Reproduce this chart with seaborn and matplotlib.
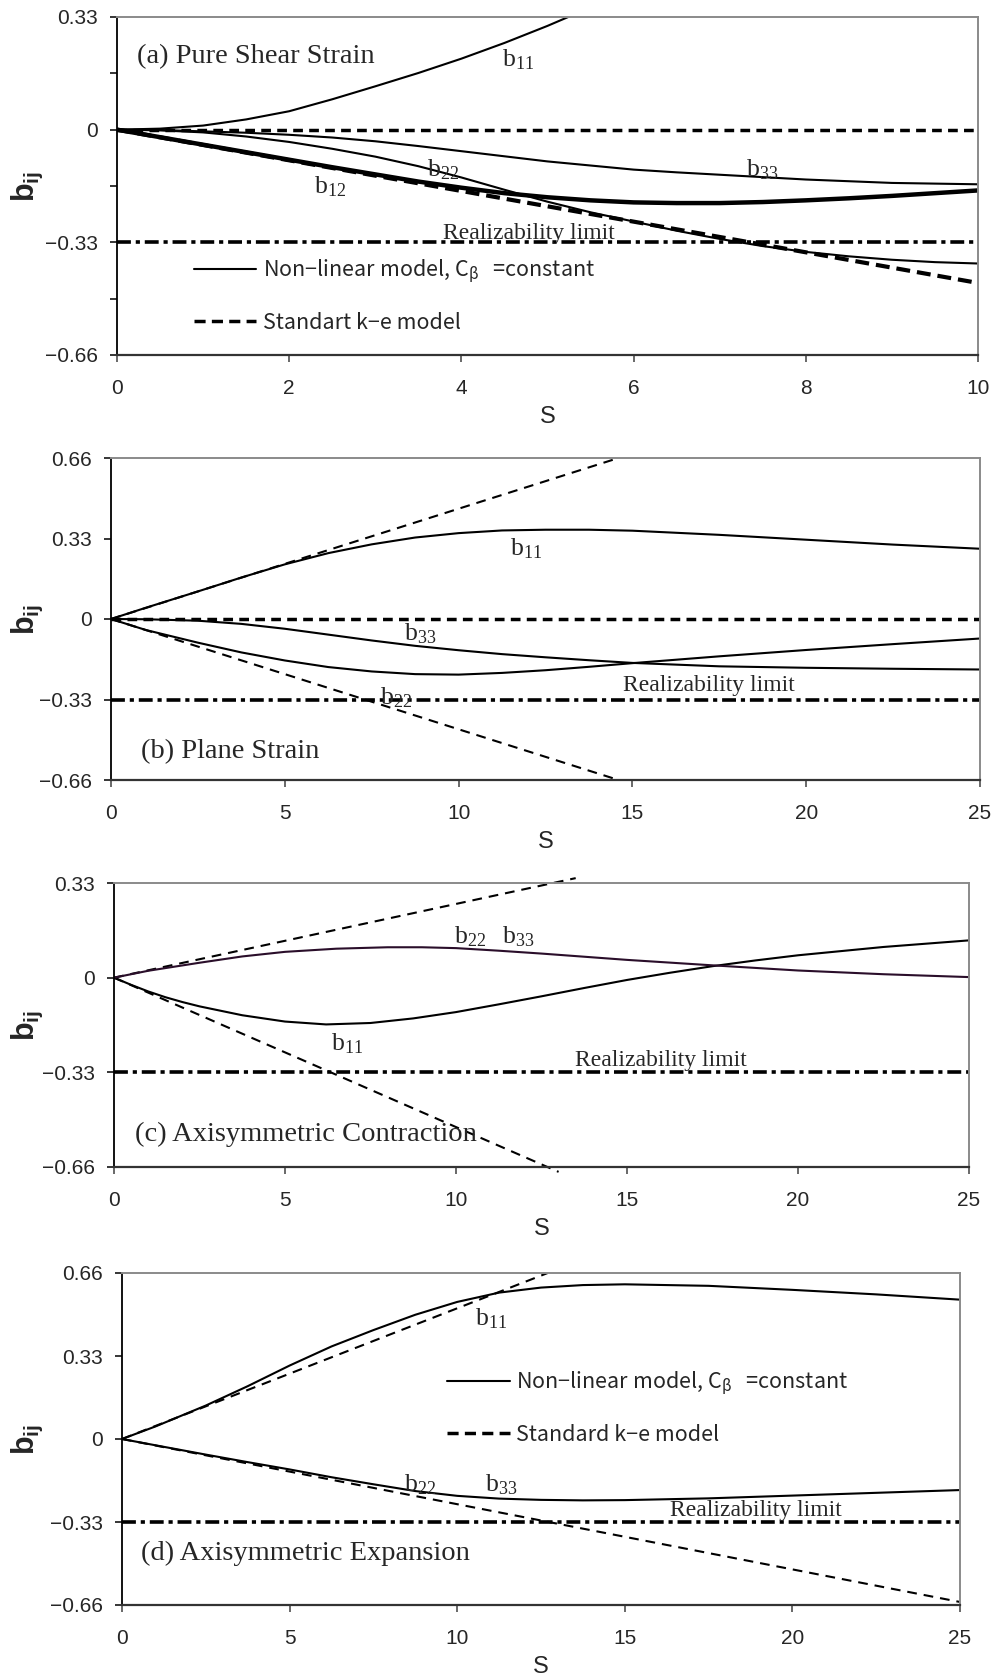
import numpy as np
import pandas as pd
import matplotlib
matplotlib.use("Agg")
import matplotlib.pyplot as plt
import seaborn as sns
from matplotlib.lines import Line2D
from matplotlib.font_manager import FontProperties

# ---------------- data ----------------
# (a) Pure shear strain
S_A = [0, 0.5, 1, 1.5, 2, 2.5, 3, 3.5, 4, 4.5, 5, 5.5, 6, 6.5, 7, 7.5, 8, 8.5, 9, 9.5, 10]
A_B11 = [0, 0.003, 0.012, 0.03, 0.054, 0.089, 0.127, 0.166, 0.208, 0.254, 0.304, 0.358]
A_B22 = [0, -0.002, -0.008, -0.02, -0.036, -0.056, -0.079, -0.107, -0.14, -0.176, -0.211,
         -0.242, -0.269, -0.296, -0.32, -0.341, -0.358, -0.371, -0.381, -0.388, -0.392]
A_B33 = [0, -0.001, -0.005, -0.009, -0.015, -0.023, -0.034, -0.048, -0.063, -0.078, -0.093,
         -0.105, -0.117, -0.125, -0.132, -0.139, -0.146, -0.151, -0.156, -0.158, -0.16]
A_B12 = [0, -0.022, -0.044, -0.066, -0.088, -0.11, -0.131, -0.152, -0.17, -0.186, -0.198,
         -0.207, -0.213, -0.215, -0.215, -0.212, -0.207, -0.201, -0.194, -0.186, -0.178]
A_STD_S = [0, 10]
A_STD_B12 = [0, -0.449]
A_STD_BII = [0, 0]

# (b) Plane strain
S_B = [0, 1, 2.5, 3.75, 5, 6.25, 7.5, 8.75, 10, 11.25, 12.5, 13.75, 15, 17.5, 20, 22.5, 25]
B_B11 = [0, 0.046, 0.113, 0.17, 0.224, 0.27, 0.306, 0.334, 0.352, 0.363, 0.366, 0.366,
         0.362, 0.345, 0.325, 0.305, 0.288]
B_B22 = [0, -0.045, -0.097, -0.137, -0.170, -0.197, -0.215, -0.226, -0.228, -0.221, -0.210,
         -0.196, -0.181, -0.153, -0.127, -0.103, -0.08]
B_B33 = [0, -0.001, -0.007, -0.02, -0.04, -0.064, -0.088, -0.11, -0.128, -0.144, -0.157,
         -0.169, -0.18, -0.194, -0.2, -0.204, -0.207]
B_STD_S = [0, 14.6]
B_STD_B11 = [0, 0.66]
B_STD_B22 = [0, -0.66]
B_STD_S33 = [0, 25]
B_STD_B33 = [0, 0]

# (c) Axisymmetric contraction
S_C1 = [0, 0.5, 1, 1.5, 2, 2.5, 3.75, 5, 6.2, 7.5, 8.75, 10, 11.25, 12.5, 13.75, 15, 16.25,
        17.5, 18.75, 20, 22.5, 25]
C_B11 = [0, -0.025, -0.048, -0.068, -0.085, -0.1, -0.131, -0.153, -0.163, -0.158, -0.142,
         -0.12, -0.093, -0.065, -0.036, -0.008, 0.017, 0.04, 0.06, 0.078, 0.107, 0.13]
S_C2 = [0, 1, 2.5, 3.75, 5, 6.5, 8, 9, 10, 11.25, 12.5, 15, 17.5, 20, 22.5, 25]
C_B22 = [0, 0.024, 0.052, 0.074, 0.09, 0.101, 0.106, 0.106, 0.103, 0.094, 0.084, 0.062,
         0.043, 0.025, 0.012, 0.002]
C_STD_SP = [0, 13.5]
C_STD_B22 = [0, 0.347]
C_STD_SN = [0, 13.0]
C_STD_B11 = [0, -0.677]

# (d) Axisymmetric expansion
S_D = [0, 1, 2.5, 3.75, 5, 6.25, 7.5, 8.75, 10, 11.25, 12.5, 13.75, 15, 17.5, 20, 22.5, 25]
D_B11 = [0, 0.05, 0.133, 0.21, 0.292, 0.368, 0.433, 0.494, 0.545, 0.582, 0.602, 0.612,
         0.615, 0.609, 0.593, 0.575, 0.554]
D_B22 = [0, -0.025, -0.062, -0.092, -0.121, -0.152, -0.18, -0.207, -0.226, -0.237, -0.242,
         -0.244, -0.243, -0.236, -0.225, -0.214, -0.203]
D_STD_SP = [0, 12.7]
D_STD_B11 = [0, 0.66]
D_STD_SN = [0, 25]
D_STD_B22 = [0, -0.648]

LIMIT = -0.33

XT_A = [0, 2, 4, 6, 8, 10]
XT_B = [0, 5, 10, 15, 20, 25]
YT_A = [0.33, 0, -0.33, -0.66]
YT_A_LAB = ["0.33", "0", "\u22120.33", "\u22120.66"]
YT_A_MINOR = [0.165, -0.165, -0.495]
YT_B = [0.66, 0.33, 0, -0.33, -0.66]
YT_B_LAB = ["0.66", "0.33", "0", "\u22120.33", "\u22120.66"]

LEG_A = ["Non\u2212linear model, C$_{\u03b2}$   =constant", "Standart k\u2212e model"]
LEG_D = ["Non\u2212linear model, C$_{\u03b2}$   =constant", "Standard k\u2212e model"]

# ---------------- style ----------------
sns.set_style("ticks")
plt.rcParams["font.family"] = ["Liberation Sans", "DejaVu Sans"]
plt.rcParams["mathtext.default"] = "regular"
plt.rcParams["lines.scale_dashes"] = False
plt.rcParams["axes.unicode_minus"] = True

W, H = 993, 1675
fig = plt.figure(figsize=(W / 100, H / 100), dpi=100)

BOXES = [(117, 978, 17, 355), (111, 980, 458, 780), (114, 969, 883, 1167), (122, 960, 1273, 1605)]

SERIF = ["Liberation Serif", "DejaVu Serif"]
LEGFONT = FontProperties(family=["Noto Sans CJK JP", "DejaVu Sans"], size=15.5)


def make_ax(box, xlim, xticks, ylim, yticks, ylabs, yminor=None):
    L, R, T, B = box
    ax = fig.add_axes([L / W, 1 - B / H, (R - L) / W, (B - T) / H])
    ax.set_xlim(xlim)
    ax.set_ylim(ylim)
    ax.set_xticks(xticks)
    ax.set_xticklabels([str(t) for t in xticks])
    ax.set_yticks(yticks)
    ax.set_yticklabels(ylabs)
    if yminor is not None:
        ax.set_yticks(yminor, minor=True)
        ax.tick_params(axis="y", which="minor", length=5, width=1.1, color="k", direction="out")
    ax.tick_params(axis="y", which="major", length=5, width=1.1, color="k", pad=9,
                   labelsize=15, direction="out")
    ax.tick_params(axis="x", which="major", length=5, width=1.1, color="#404040", pad=12,
                   labelsize=15, direction="out")
    for side in ["top", "right"]:
        ax.spines[side].set_visible(True)
        ax.spines[side].set_color("#8a8a8a")
        ax.spines[side].set_linewidth(1.4)
    ax.spines["left"].set_color("k")
    ax.spines["left"].set_linewidth(1.3)
    ax.spines["bottom"].set_color("#333333")
    ax.spines["bottom"].set_linewidth(1.6)
    ax.set_xlabel("S", fontsize=17)
    ax.xaxis.set_label_coords(0.5, -62 / (B - T))
    ax.xaxis.label.set_va("center")
    ax.set_ylabel("b$_{ij}$", fontsize=22, fontweight="bold")
    ax.yaxis.set_label_coords((27 - L) / (R - L), 0.5)
    ax.yaxis.label.set_va("center")
    return ax


def line(ax, x, y, lw=1.5, dashes=None, color="k", clip=True):
    sns.lineplot(x=x, y=y, ax=ax, color=color, linewidth=lw, estimator=None, sort=False)
    ln = ax.lines[-1]
    if dashes is not None:
        ln.set_dashes(dashes)
    ln.set_clip_on(clip)
    ln.set_solid_capstyle("butt")
    ln.set_dash_capstyle("butt")
    ln.set_solid_joinstyle("round")
    return ln


def limit(ax):
    ax.axhline(LIMIT, color="k", lw=2.6, dashes=(10, 3.5, 3, 3.5))


def blab(ax, x, y, sub):
    ax.text(x, y, "b$_{%s}$" % sub, family=SERIF, fontsize=18.5, ha="center", va="center")


def legend(ax, labels, x0, ytop):
    h1 = Line2D([], [], color="k", lw=1.5)
    h2 = Line2D([], [], color="k", lw=2.5, dashes=(8, 4.5))
    ax.legend([h1, h2], labels, loc="upper left", bbox_to_anchor=(x0, ytop), frameon=False,
              prop=LEGFONT, handlelength=2.9, handletextpad=0.3, labelspacing=1.25,
              borderpad=0, borderaxespad=0)


# ---------------- (a) ----------------
ax = make_ax(BOXES[0], (0, 10), XT_A, (-0.66, 0.33), YT_A, YT_A_LAB, YT_A_MINOR)
line(ax, A_STD_S, A_STD_BII, lw=2.5, dashes=(7, 4.5))
line(ax, A_STD_S, A_STD_B12, lw=3.0, dashes=(10, 5))
limit(ax)
line(ax, S_A[:len(A_B11)], A_B11)
line(ax, S_A, A_B22)
line(ax, S_A, A_B33)
line(ax, S_A, A_B12, lw=3.2)
ax.text(0.23, 0.213, "(a) Pure Shear Strain", family=SERIF, fontsize=20.5, ha="left", va="center")
blab(ax, 4.66, 0.205, "11")
blab(ax, 3.79, -0.117, "22")
blab(ax, 7.49, -0.117, "33")
blab(ax, 2.48, -0.166, "12")
ax.text(4.78, -0.303, "Realizability limit", family=SERIF, fontsize=17, ha="center", va="center")
legend(ax, LEG_A, 0.089, 0.29)

# ---------------- (b) ----------------
ax = make_ax(BOXES[1], (0, 25), XT_B, (-0.66, 0.66), YT_B, YT_B_LAB)
line(ax, B_STD_S33, B_STD_B33, lw=2.5, dashes=(7, 4.5))
line(ax, B_STD_S, B_STD_B11, lw=1.5, dashes=(7, 5))
line(ax, B_STD_S, B_STD_B22, lw=1.5, dashes=(7, 5))
limit(ax)
line(ax, S_B, B_B11)
line(ax, S_B, B_B22)
line(ax, S_B, B_B33)
ax.text(0.86, -0.545, "(b) Plane Strain", family=SERIF, fontsize=20.5, ha="left", va="center")
blab(ax, 11.95, 0.288, "11")
blab(ax, 8.89, -0.062, "33")
blab(ax, 8.21, -0.322, "22")
ax.text(17.2, -0.274, "Realizability limit", family=SERIF, fontsize=17, ha="center", va="center")

# ---------------- (c) ----------------
ax = make_ax(BOXES[2], (0, 25), XT_B, (-0.66, 0.33), YT_A, YT_A_LAB)
line(ax, C_STD_SP, C_STD_B22, lw=1.5, dashes=(7, 5), clip=False)
line(ax, C_STD_SN, C_STD_B11, lw=1.5, dashes=(7, 5), clip=False)
limit(ax)
line(ax, S_C1, C_B11)
line(ax, S_C2, C_B22, color="#2a0e2a")
ax.text(0.61, -0.548, "(c) Axisymmetric Contraction", family=SERIF, fontsize=20.5, ha="left", va="center")
blab(ax, 10.4, 0.143, "22")
blab(ax, 11.83, 0.143, "33")
blab(ax, 6.8, -0.23, "11")
ax.text(16.0, -0.288, "Realizability limit", family=SERIF, fontsize=17, ha="center", va="center")

# ---------------- (d) ----------------
ax = make_ax(BOXES[3], (0, 25), XT_B, (-0.66, 0.66), YT_B, YT_B_LAB)
line(ax, D_STD_SP, D_STD_B11, lw=1.5, dashes=(7, 5))
line(ax, D_STD_SN, D_STD_B22, lw=1.5, dashes=(7, 5))
limit(ax)
line(ax, S_D, D_B11)
line(ax, S_D, D_B22)
ax.text(0.57, -0.453, "(d) Axisymmetric Expansion", family=SERIF, fontsize=20.5, ha="left", va="center")
blab(ax, 11.0, 0.479, "11")
blab(ax, 8.9, -0.181, "22")
blab(ax, 11.3, -0.181, "33")
ax.text(18.9, -0.286, "Realizability limit", family=SERIF, fontsize=17, ha="center", va="center")
legend(ax, LEG_D, 0.388, 0.71)

fig.savefig("out.png", dpi=100)
